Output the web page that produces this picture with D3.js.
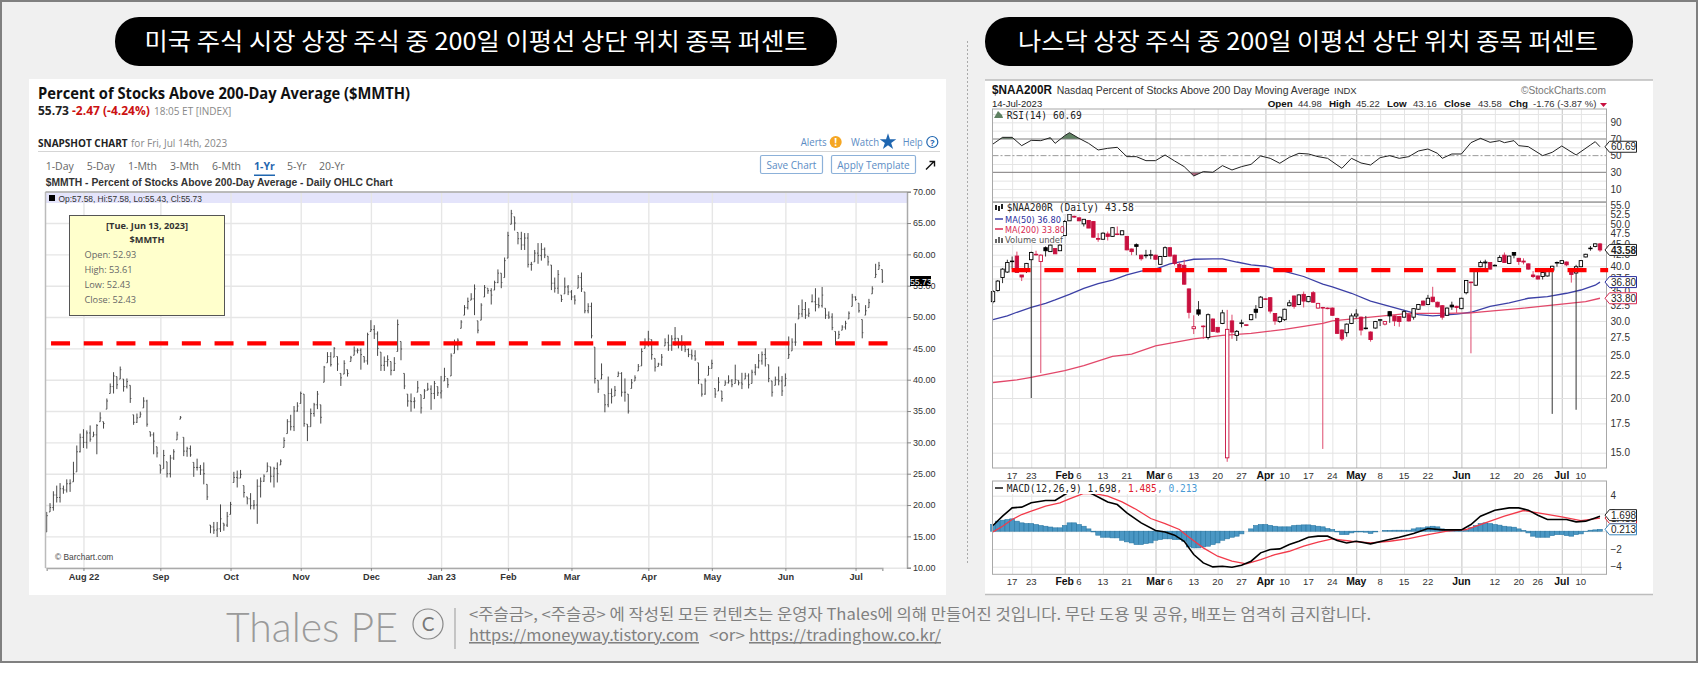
<!DOCTYPE html>
<html>
<head>
<meta charset="utf-8">
<script src="https://cdnjs.cloudflare.com/ajax/libs/d3/7.8.5/d3.min.js"></script>
<style>
  html, body { margin: 0; padding: 0; background: #fff; }
  svg { display: block; }
  .grid .domain { display: none; }
</style>
</head>
<body>
<div id="chart"></div>
<script>
// 1: DATA
// left chart: $MMTH daily bars, one value per trading day
const mmthHigh = [
  18.9,20.3,22.2,23.1,23.5,23.1,24.1,24.1,26.9,29.5,
  31.4,32.1,31.9,32.7,31.7,32.9,34.8,33.3,37.0,39.4,
  41.2,40.5,42.1,40.1,40.2,39.1,34.4,34.6,34.9,37.2,
  36.8,31.7,31.6,29.3,26.4,28.8,26.9,28.0,28.9,31.7,
  34.2,30.8,29.3,29.5,26.8,27.4,26.4,26.8,23.3,16.8,
  17.3,17.3,20.1,17.1,18.9,20.5,25.3,25.5,25.6,23.1,
  21.3,21.9,20.8,24.1,24.4,24.9,26.8,26.1,26.1,26.8,
  27.3,30.8,33.7,34.4,35.8,36.4,38.1,37.7,32.9,35.4,
  36.3,38.2,36.0,42.2,44.4,44.4,45.2,43.7,41.0,43.1,
  41.6,43.8,45.3,45.0,45.0,43.7,47.5,49.5,48.7,47.7,
  44.4,43.7,43.9,42.9,43.6,49.6,46.1,41.0,37.7,37.8,
  37.2,39.8,37.6,38.5,39.5,39.1,39.8,38.9,40.6,41.9,
  40.2,44.2,46.4,46.6,49.5,51.9,53.1,53.8,55.2,49.4,
  52.2,55.1,54.6,54.6,55.8,57.6,57.0,59.5,63.6,67.1,
  66.0,63.5,63.6,63.4,63.4,58.8,60.7,61.8,61.8,61.1,
  59.7,58.3,56.3,57.5,53.5,56.3,55.1,54.3,53.5,56.7,
  57.1,54.0,52.2,52.3,45.2,39.9,42.6,37.6,40.5,38.6,
  39.0,41.3,41.2,40.2,37.7,40.1,40.7,42.5,45.0,46.6,
  47.8,46.4,43.4,42.7,44.1,46.6,47.2,47.1,48.4,46.6,
  47.1,45.5,45.0,44.8,44.7,42.7,39.3,40.2,42.2,43.2,
  38.6,40.4,38.2,39.9,40.7,40.1,42.4,39.9,41.1,41.1,
  41.0,41.6,42.5,44.1,44.5,45.0,42.4,39.8,40.5,42.1,
  40.6,41.0,46.9,46.6,49.0,51.9,52.8,52.4,51.4,53.61,
  54.6,53.1,54.8,51.4,50.9,50.6,47.7,47.8,48.7,49.4,
  50.9,53.7,53.3,52.2,49.6,51.9,52.9,54.9,58.5,58.8,57.58
];
const mmthLow = [
  15.7,18.9,19.1,20.4,20.4,21.8,22.0,22.1,23.7,25.3,
  28.4,29.1,29.0,30.1,30.9,28.1,33.3,32.2,35.3,37.8,
  37.8,38.5,40.1,38.1,38.6,36.3,32.8,33.1,34.0,35.5,
  32.5,30.9,28.1,27.6,25.0,25.8,24.4,24.4,27.2,30.4,
  33.7,27.8,27.7,27.7,24.5,25.5,24.8,23.3,20.8,15.5,
  15.4,14.9,15.7,15.9,16.5,18.5,23.6,22.8,24.3,21.2,
  20.1,19.3,19.3,17.0,21.2,23.7,25.3,23.6,22.8,23.6,
  26.4,29.2,31.4,31.9,31.8,34.9,36.2,32.5,30.2,32.5,
  34.1,35.3,33.0,39.6,42.7,42.1,43.6,41.4,39.0,40.9,
  40.5,42.9,43.9,44.2,41.6,42.7,42.4,47.7,46.5,43.8,
  41.4,41.4,42.1,40.7,41.4,44.5,43.1,38.5,35.7,34.9,
  35.4,38.0,34.6,37.0,38.3,35.2,36.9,37.4,37.0,39.8,
  38.7,40.6,44.2,44.7,48.2,50.3,51.2,52.7,50.3,47.4,
  49.5,53.2,53.7,52.0,54.3,55.4,54.6,56.3,59.4,64.8,
  63.8,61.6,60.7,60.7,57.9,57.4,58.8,58.5,59.0,59.4,
  58.2,54.3,53.9,53.7,52.4,53.7,53.5,52.7,52.0,54.6,
  54.0,50.6,50.6,46.6,39.4,37.9,40.1,34.8,35.6,36.2,
  37.4,40.5,37.3,36.5,34.6,38.6,39.8,41.4,42.2,45.0,
  45.3,43.2,41.3,42.1,42.2,45.4,44.6,44.6,45.4,45.0,
  44.6,44.4,43.6,43.2,43.0,39.3,37.3,37.6,40.7,41.8,
  37.1,38.2,36.5,39.1,39.4,38.8,39.4,39.1,38.5,40.1,
  38.6,39.4,40.7,41.8,42.4,42.1,39.6,37.3,39.1,39.1,
  37.4,39.0,43.4,44.6,45.4,49.7,50.0,49.7,50.0,52.43,
  50.9,51.4,51.5,49.7,49.7,47.9,45.5,46.6,47.9,48.0,
  49.7,51.7,52.6,50.7,46.6,50.3,51.5,53.7,56.3,57.6,55.43
];
const mmthClose = [
  18.3,19.6,21.6,21.2,22.6,22.4,23.4,23.5,25.0,28.5,
  30.8,30.0,31.5,30.5,31.2,32.7,33.9,33.0,36.6,38.9,
  40.6,39.2,41.6,38.9,39.7,37.0,33.2,33.9,34.5,36.6,
  32.9,31.2,30.2,28.3,25.6,27.9,25.0,27.5,28.5,31.2,
  34.0,28.6,29.0,28.0,26.0,26.0,25.6,25.0,21.3,16.5,
  16.0,16.2,17.8,16.8,18.2,20.1,24.4,24.3,24.9,22.0,
  21.0,19.9,20.0,23.0,23.8,24.6,26.2,24.6,25.8,25.0,
  27.0,30.3,33.3,32.5,35.0,35.8,37.8,33.0,32.5,34.6,
  36.0,37.7,34.0,42.0,43.7,42.4,45.0,42.5,40.3,42.6,
  41.0,43.5,44.6,44.7,44.0,43.0,47.2,48.0,47.3,45.0,
  42.3,42.9,43.2,41.5,42.6,48.8,44.9,39.0,36.6,36.5,
  36.6,38.7,35.5,38.2,38.5,37.8,39.4,37.9,38.2,40.5,
  39.2,43.8,45.5,46.3,49.2,51.5,52.5,52.9,54.5,47.9,
  51.9,54.7,54.2,53.5,55.5,57.0,55.5,59.0,63.0,66.5,
  65.0,62.5,61.5,62.6,58.4,58.4,60.2,59.8,60.8,59.9,
  58.8,55.4,54.6,56.8,52.8,54.8,54.0,53.2,52.7,56.3,
  54.5,51.0,51.7,47.0,40.2,38.5,40.8,36.0,37.8,37.3,
  38.3,41.0,38.0,38.0,35.0,39.5,40.3,42.1,44.5,45.8,
  46.5,44.0,42.0,42.5,43.6,45.9,45.5,46.5,46.6,45.6,
  45.5,44.8,44.0,43.8,43.3,40.0,37.7,39.8,41.8,42.6,
  37.7,39.6,37.0,39.5,39.8,39.2,40.0,39.5,39.3,40.6,
  39.2,41.2,42.0,43.0,44.0,43.4,40.2,38.0,40.0,39.8,
  38.2,40.2,44.0,46.0,46.0,50.5,51.2,50.3,50.6,52.43,
  52.0,51.8,53.5,50.3,50.0,48.3,46.0,47.2,48.4,49.0,
  50.6,53.2,52.8,51.0,47.5,51.0,52.3,54.5,56.8,58.2,55.73
];
const mmthTicks = [10,15,20,25,30,35,40,45,50,55,60,65,70];
const mmthMonthIdx = [11,34,55,76,97,118,138,157,180,199,221,242];
const mmthMonthLabels = ["Aug 22","Sep","Oct","Nov","Dec","Jan 23","Feb","Mar","Apr","May","Jun","Jul"];
const mmthRedLine = 45.8;

// right chart: $NAA200R daily candles
const naaOpen = [
  33.2,35.2,37.7,38.8,41.0,42.2,38.2,39.2,41.4,42.6,
  41.0,44.1,43.2,43.9,43.4,47.0,50.8,52.0,51.6,50.0,
  50.9,50.6,46.3,46.1,47.4,46.8,47.4,47.2,46.8,43.8,
  44.8,42.4,42.3,42.4,42.4,40.4,42.1,44.1,42.4,40.4,
  40.2,35.5,28.8,31.8,29.2,27.5,30.3,29.0,29.6,14.6,
  30.0,27.8,29.6,29.4,30.2,31.9,32.2,33.7,33.9,31.2,
  29.9,30.2,32.5,34.2,32.7,34.5,33.2,34.8,32.1,32.2,
  32.1,32.1,30.4,28.6,28.2,29.6,30.8,30.6,28.8,28.3,
  28.9,30.1,29.5,31.5,30.8,30.7,30.6,31.0,30.6,31.9,
  33.3,32.7,34.0,33.1,32.5,30.9,32.6,32.4,32.0,34.8,
  36.8,36.2,39.9,40.7,40.8,40.1,41.0,42.4,40.6,43.0,
  41.7,41.1,40.5,38.2,38.0,37.9,38.0,39.2,40.7,40.6,
  40.9,39.2,38.6,39.9,42.0,43.9,44.4,44.98
];
const naaHigh = [
  35.3,37.2,39.6,41.4,42.1,43.2,38.2,40.7,43.2,43.4,
  42.6,44.4,44.8,44.0,44.9,51.0,53.4,52.2,51.7,51.3,
  51.0,50.7,47.6,47.8,48.0,49.1,49.3,48.3,46.9,43.9,
  45.1,42.5,43.6,43.6,42.5,42.2,44.4,44.2,42.5,40.8,
  41.4,35.6,30.9,33.3,29.3,31.2,30.4,29.0,31.8,31.8,
  31.0,28.6,30.2,29.4,31.1,32.6,34.2,33.8,34.0,31.2,
  30.7,32.0,33.5,34.3,34.5,35.0,34.2,35.1,33.0,32.3,
  32.2,32.2,30.5,28.7,29.6,31.2,31.9,30.7,30.8,28.4,
  30.0,30.3,30.0,31.6,30.9,30.8,31.8,31.1,32.1,32.8,
  33.4,34.4,35.9,33.2,32.6,32.2,33.2,32.5,33.9,37.2,
  36.9,39.5,41.2,41.4,40.9,40.4,42.4,43.0,42.3,43.1,
  41.8,41.7,40.6,39.0,38.1,38.8,39.3,40.1,41.0,41.3,
  41.0,39.3,40.3,41.3,42.7,44.5,45.1,45.22
];
const naaLow = [
  32.9,35.0,36.6,38.6,39.5,38.7,37.0,38.6,20.0,42.3,
  22.8,42.1,43.2,42.7,43.4,46.9,50.8,51.6,50.7,49.3,
  48.9,46.5,45.5,46.0,45.8,46.7,47.1,47.1,43.5,42.4,
  42.4,41.2,41.7,41.5,41.4,40.3,42.0,42.1,40.2,39.2,
  36.3,30.4,28.0,30.8,27.3,27.2,28.3,28.2,29.5,14.3,
  27.3,27.0,29.0,29.2,30.1,30.4,32.1,33.5,31.2,29.4,
  29.7,30.0,32.4,32.0,32.6,32.2,33.1,33.0,32.0,15.3,
  31.9,30.8,28.0,27.0,27.6,29.5,30.4,27.8,28.7,26.9,
  28.8,29.2,29.3,29.7,29.2,29.1,30.5,29.9,30.2,31.8,
  32.5,32.6,33.1,32.2,30.2,30.8,31.8,31.3,31.9,34.5,
  25.3,36.1,39.8,39.5,39.3,40.0,40.9,40.7,40.5,41.7,
  40.3,40.4,39.3,37.6,37.3,37.3,37.9,18.4,39.9,40.5,
  40.0,36.7,18.8,39.8,41.9,43.4,44.2,43.16
];
const naaClose = [
  35.0,37.0,39.4,40.8,41.1,38.7,37.8,40.6,43.0,42.5,
  42.4,43.4,44.7,42.7,44.7,50.6,52.6,51.8,50.8,51.2,
  48.9,46.6,46.1,47.6,46.8,49.0,47.3,48.2,43.6,43.2,
  44.4,41.6,42.4,42.5,41.5,42.1,44.1,42.2,40.6,39.7,
  36.4,31.4,29.1,31.1,29.1,31.0,28.4,28.3,31.3,28.7,
  28.3,28.4,29.7,29.3,31.0,31.4,34.0,33.6,31.6,30.0,
  30.6,31.9,33.0,32.4,34.4,33.3,34.1,33.1,32.9,32.1,
  32.0,30.9,28.1,27.3,29.5,30.8,31.1,28.6,28.9,27.2,
  29.9,30.2,29.9,30.8,30.0,29.9,31.5,30.0,32.0,32.7,
  32.6,33.8,33.2,32.3,30.6,32.1,32.3,32.2,33.8,37.1,
  36.7,38.9,40.8,40.9,39.4,40.2,41.9,40.8,42.2,42.4,
  41.0,40.9,39.4,37.9,37.4,38.7,39.2,40.0,40.8,41.2,
  40.3,38.3,39.9,41.2,42.6,44.0,45.0,43.58
];
const naaPriceTicks = [55,52.5,50,47.5,45,42.5,40,37.5,35,32.5,30,27.5,25,22.5,20,17.5,15];
const naaRedLine = 39.2;

const ma50Idx = [0,3,5,8,11,13,16,19,22,25,28,31,34,37,40,42,46,48,51,54,57,59,62,65,69,71,75,79,83,87,89,92,97,100,104,108,112,116,120,123,126,127];
const ma50Val = [30.2,30.8,31.4,32.2,32.9,33.5,34.5,35.6,36.5,37.2,38.2,39.0,39.4,40.5,41.1,41.5,41.6,41.6,40.9,40.3,40.0,39.5,38.7,37.9,36.4,35.9,34.7,33.3,32.4,31.5,31.0,30.8,31.1,31.4,32.4,33.0,33.8,34.1,34.7,35.3,36.2,36.8];
const ma200Idx = [0,5,8,15,19,25,29,34,42,48,54,61,69,71,79,87,94,100,104,110,117,124,127];
const ma200Val = [21.7,22.0,22.3,23.1,23.7,24.9,25.2,26.3,27.3,27.8,28.1,28.7,29.6,30.0,30.6,31.2,31.2,31.3,31.6,32.0,32.6,33.2,33.8];

// RSI(14)
const rsiIdx = [0,2,4,6,8,10,12,13,15,16,18,20,22,24,26,28,30,32,34,36,38,40,42,44,46,48,50,52,54,56,58,60,62,64,66,68,70,73,75,77,79,81,83,85,87,89,91,93,94,96,98,100,102,104,106,107,109,110,112,115,117,119,122,125,126,127];
const rsiVal = [64,72,72,62,68.4,68,71.6,64.8,74,77.6,70.8,64.8,56.8,58.8,60,48.8,48.8,44,44,50.8,43.6,36.8,25.6,30.8,30,38,32.8,36.8,39.6,49.6,46.8,40.8,48,52.8,52,48.8,46.8,34.8,46.8,41.2,38.8,47.6,50,46.8,48.8,55.6,58,52.8,46.8,52,52,65.6,70.8,66,68,65.6,68,62,60.8,50,54,61.6,50.8,62.8,66.8,60.69];
const rsiTicks = [90,70,50,30,10];
const rsiGridLines = [100,90,80,60,40,20,10,0];

// MACD(12,26,9)
const macdIdx = [0,2,4,6,8,11,13,15,17,19,21,24,26,28,31,34,36,38,40,42,44,46,48,50,52,54,56,58,60,62,64,66,68,70,72,74,76,79,82,85,88,91,94,98,100,102,105,108,110,112,114,116,118,120,122,124,126,127];
const macdVal = [0.64,1.69,2.63,2.71,3.2,3.46,3.46,4.14,4.7,4.6,4.14,3.3,3.0,2.07,0.94,0.08,-0.08,-0.45,-1.13,-2.63,-3.57,-4.02,-3.95,-4.06,-3.83,-3.38,-2.44,-2.07,-1.99,-1.5,-1.13,-0.68,-0.56,-0.56,-1.05,-1.32,-1.13,-1.43,-1.05,-0.68,-0.26,0.3,0.15,0.15,0.75,1.69,2.37,2.63,2.63,2.37,1.8,1.32,1.32,1.32,1.05,1.13,1.5,1.698];
const signalIdx = [0,2,4,6,8,11,14,16,19,21,24,27,30,33,36,39,41,44,47,50,53,56,59,62,65,68,71,75,79,83,87,91,95,99,103,107,111,115,119,123,127];
const signalVal = [-0.08,0.56,1.32,1.88,2.26,2.82,3.2,3.65,4.25,4.25,3.95,3.3,2.44,1.43,0.86,0.19,-0.68,-1.88,-2.82,-3.38,-3.68,-3.2,-2.63,-2.26,-1.69,-1.24,-0.86,-1.13,-1.32,-1.13,-0.83,-0.38,0,0.19,0.94,1.69,2.33,1.99,1.62,1.2,1.485];
const macdHist = [
  0.75,1.13,1.24,1.32,1.39,1.13,0.94,0.86,0.86,0.75,0.64,0.56,0.47,
  0.38,0.38,0.64,0.94,0.94,0.75,0.56,0.26,-0.08,-0.45,-0.68,-0.68,-0.75,-0.75,-1.02,-1.2,-1.32,-1.5,-1.5,-1.39,
  -1.32,-1.02,-0.94,-0.86,-0.86,-0.94,-0.94,-1.13,-1.77,-1.88,-1.88,-1.77,-1.69,-1.5,-1.32,-1.02,-0.86,-0.68,-0.56,-0.3,0,0.26,0.64,0.75,0.75,0.66,0.56,
  0.49,0.49,0.49,0.64,0.68,0.71,0.71,0.64,0.56,0.49,
  0.3,0.19,-0.08,-0.38,-0.38,-0.19,-0.08,-0.08,-0.11,-0.26,-0.08,0,0.08,0.08,0.11,0.11,0.11,0.11,0.26,0.38,0.38,0.49,0.56,0.49,0.26,0.11,0.08,0.11,0.04,0.08,
  0.38,0.64,0.86,0.94,0.86,0.75,0.68,0.56,0.49,0.45,0.26,0.08,-0.19,-0.56,-0.68,-0.68,-0.68,-0.49,-0.38,-0.38,-0.49,-0.56,-0.38,-0.3,-0.05,0.11,0.15,0.213
];
const macdTicks = [4,2,-2,-4];

// x axis of the right chart
const naaDayIdx = [4,8,18,23,28,37,42,47,52,61,66,71,81,86,91,105,110,114,123];
const naaDayLabels = ["17","23","6","13","21","6","13","20","27","10","17","24","8","15","22","12","20","26","10"];
const naaMonthIdx = [15,34,57,76,98,119];
const naaMonthLabels = ["Feb","Mar","Apr","May","Jun","Jul"];

// 2: GLOBALS
const width = 1698, height = 673;
const krFont = "'Noto Sans CJK KR', 'Noto Sans', sans-serif";
const webFont = "'Open Sans', sans-serif";
const arial = "'Liberation Sans', Arial, sans-serif";
const mono = "'DejaVu Sans Mono', monospace";
const sans = "'DejaVu Sans', sans-serif";

const svg = d3.select("#chart").append("svg")
    .attr("width", width)
    .attr("height", height);

function addText(g, x, y, str, font, size, color, extra) {
    const t = g.append("text")
        .attr("x", x).attr("y", y)
        .attr("font-family", font)
        .attr("font-size", size)
        .attr("fill", color)
        .text(str);
    if (extra) Object.entries(extra).forEach(([k, v]) => t.attr(k, v));
    return t;
}

// grid lines are axes without labels
function styleGrid(g, color, w) {
    g.selectAll("text").remove();
    g.selectAll("line").attr("stroke", color).attr("stroke-width", w);
}

// 3: PAGE BACKGROUND, HEADERS, FOOTER
svg.append("rect").attr("x", 1).attr("y", 1).attr("width", width - 2).attr("height", 661)
    .attr("fill", "#f0f0f0").attr("stroke", "#808080").attr("stroke-width", 2);

svg.append("rect").attr("x", 29).attr("y", 79).attr("width", 917).attr("height", 516).attr("fill", "#fff");
svg.append("rect").attr("x", 985).attr("y", 80).attr("width", 668).attr("height", 514)
    .attr("fill", "#fff");
svg.append("line").attr("x1", 985).attr("x2", 1653).attr("y1", 80).attr("y2", 80).attr("stroke", "#bdbdbd").attr("stroke-width", 1.5);
svg.append("line").attr("x1", 985).attr("x2", 1653).attr("y1", 594.5).attr("y2", 594.5).attr("stroke", "#bdbdbd").attr("stroke-width", 1.5);
svg.append("line").attr("x1", 967.5).attr("x2", 967.5).attr("y1", 41).attr("y2", 563)
    .attr("stroke", "#aaa").attr("stroke-dasharray", "2,2");

[
    { x: 115, w: 722, tx: 476, len: 663, s: "미국 주식 시장 상장 주식 중 200일 이평선 상단 위치 종목 퍼센트" },
    { x: 985, w: 648, tx: 1308, len: 580, s: "나스닥 상장 주식 중 200일 이평선 상단 위치 종목 퍼센트" }
].forEach(p => {
    svg.append("rect").attr("x", p.x).attr("y", 17).attr("width", p.w).attr("height", 49)
        .attr("rx", 24).attr("ry", 24).attr("fill", "#000");
    addText(svg, p.tx, 50, p.s, krFont, 24, "#fff", { "text-anchor": "middle", textLength: p.len, lengthAdjust: "spacingAndGlyphs" });
});

addText(svg, 226, 642, "Thales PE", "Lato, 'Open Sans', sans-serif", 42, "#9a9a9a",
    { "font-weight": 300, textLength: 172, lengthAdjust: "spacingAndGlyphs" });
svg.append("circle").attr("cx", 428).attr("cy", 624).attr("r", 15).attr("fill", "none").attr("stroke", "#888").attr("stroke-width", 1.2);
addText(svg, 428, 631, "C", "Lato, sans-serif", 19, "#777", { "text-anchor": "middle", "font-weight": 400 });
svg.append("line").attr("x1", 455).attr("x2", 455).attr("y1", 608).attr("y2", 649).attr("stroke", "#999");
addText(svg, 469, 620, "<주슬금>, <주슬공> 에 작성된 모든 컨텐츠는 운영자 Thales에 의해 만들어진 것입니다. 무단 도용 및 공유, 배포는 엄격히 금지합니다.",
    krFont, 15.5, "#808080", { textLength: 902, lengthAdjust: "spacingAndGlyphs" });
addText(svg, 469, 641, "https://moneyway.tistory.com", krFont, 15.5, "#808080", { "text-decoration": "underline", textLength: 230, lengthAdjust: "spacingAndGlyphs" });
addText(svg, 709, 641, "<or>", krFont, 15.5, "#808080", { textLength: 36, lengthAdjust: "spacingAndGlyphs" });
addText(svg, 749, 641, "https://tradinghow.co.kr/", krFont, 15.5, "#808080", { "text-decoration": "underline", textLength: 192, lengthAdjust: "spacingAndGlyphs" });

// ==========================================
//         LEFT CHART ($MMTH)
// ==========================================
const left = svg.append("g");

addText(left, 38, 99, "Percent of Stocks Above 200-Day Average ($MMTH)", webFont, 15.3, "#111", { "font-weight": 700, textLength: 372, lengthAdjust: "spacingAndGlyphs" });
addText(left, 38, 115, "55.73", webFont, 12, "#222", { "font-weight": 700 });
addText(left, 72, 115, "-2.47 (-4.24%)", webFont, 12, "#cc1111", { "font-weight": 700 });
addText(left, 154, 115, "18:05 ET [INDEX]", webFont, 10, "#888");
addText(left, 38, 147, "SNAPSHOT CHART", webFont, 10, "#222", { "font-weight": 700 });
addText(left, 131, 147, "for Fri, Jul 14th, 2023", webFont, 10, "#888");
left.append("line").attr("x1", 38).attr("x2", 940).attr("y1", 151.5).attr("y2", 151.5).attr("stroke", "#d5d5d5");

const tabLabels = ["1-Day","5-Day","1-Mth","3-Mth","6-Mth","1-Yr","5-Yr","20-Yr"];
const tabX = [45.7,86.7,128,170,212,254,287,319];
tabLabels.forEach((s, i) => addText(left, tabX[i], 170, s, webFont, 10.5, i === 5 ? "#1f66b0" : "#666", { "font-weight": i === 5 ? 700 : 400 }));
left.append("rect").attr("x", 254).attr("y", 174.5).attr("width", 21).attr("height", 1.5).attr("fill", "#1f66b0");
addText(left, 45.7, 186, "$MMTH - Percent of Stocks Above 200-Day Average - Daily OHLC Chart", arial, 10.5, "#333", { "font-weight": 700, textLength: 347, lengthAdjust: "spacingAndGlyphs" });

// top right links and buttons
addText(left, 800.7, 146, "Alerts", webFont, 10.5, "#5b8cc4", { textLength: 26, lengthAdjust: "spacingAndGlyphs" });
left.append("circle").attr("cx", 835.7).attr("cy", 142).attr("r", 6).attr("fill", "#f5a623");
addText(left, 835.7, 146, "!", webFont, 10, "#fff", { "text-anchor": "middle", "font-weight": 700 });
addText(left, 851, 146, "Watch", webFont, 10.5, "#5b8cc4", { textLength: 28, lengthAdjust: "spacingAndGlyphs" });
left.append("path").attr("d", d3.symbol(d3.symbolStar, 85)()).attr("transform", "translate(888,142)").attr("fill", "#1f66b0");
addText(left, 902.7, 146, "Help", webFont, 10.5, "#5b8cc4", { textLength: 20, lengthAdjust: "spacingAndGlyphs" });
left.append("circle").attr("cx", 932.3).attr("cy", 142).attr("r", 5.5).attr("fill", "#fff").attr("stroke", "#1f66b0").attr("stroke-width", 1.2);
addText(left, 932.3, 145.5, "?", webFont, 9, "#1f66b0", { "text-anchor": "middle", "font-weight": 700 });
[{ x: 760.5, w: 62, s: "Save Chart" }, { x: 831.5, w: 84, s: "Apply Template" }].forEach(b => {
    left.append("rect").attr("x", b.x).attr("y", 155.5).attr("width", b.w).attr("height", 18).attr("rx", 1.5)
        .attr("fill", "#fff").attr("stroke", "#8cb1d9").attr("stroke-width", 1.2);
    addText(left, b.x + b.w / 2, 169, b.s, webFont, 10, "#5b8cc4", { "text-anchor": "middle" });
});
left.append("path").attr("d", "M926,169.5L934,161.5M929.5,161.5H934.5V166.5").attr("fill", "none").attr("stroke", "#111").attr("stroke-width", 1.4);

// scales for the plot
const xL = d3.scaleLinear().domain([0, 250]).range([46.7, 882.3]);
const yL = d3.scaleLinear().domain([10, 70]).range([567.7, 191.7]);

// lavender strip sits under the grid
left.append("rect").attr("x", 45.5).attr("y", 192).attr("width", 861.5).attr("height", 11).attr("fill", "#e4e4fb");

styleGrid(left.append("g").attr("class", "grid").attr("transform", "translate(45.5,0)")
    .call(d3.axisLeft(yL).tickValues(mmthTicks).tickSize(-861.5)), "#e6e6e6", 1.4);
styleGrid(left.append("g").attr("class", "grid").attr("transform", "translate(0,567.7)")
    .call(d3.axisBottom(xL).tickValues(mmthMonthIdx).tickSize(-376)), "#e6e6e6", 1.4);

// OHLC bars (left tick sits on the prior close, the index opens there)
const mmthBars = mmthHigh.map((h, i) => ({ i, high: h, low: mmthLow[i], close: mmthClose[i], prev: i ? mmthClose[i - 1] : mmthLow[0] }));
const barG = left.append("g").attr("stroke", "#484848");
barG.selectAll(".hl").data(mmthBars).enter().append("line")
    .attr("x1", d => xL(d.i)).attr("x2", d => xL(d.i))
    .attr("y1", d => yL(d.high)).attr("y2", d => yL(d.low))
    .attr("stroke-width", 1);
barG.selectAll(".cl").data(mmthBars).enter().append("line")
    .attr("x1", d => xL(d.i)).attr("x2", d => xL(d.i) + 1.1)
    .attr("y1", d => yL(d.close)).attr("y2", d => yL(d.close))
    .attr("stroke-width", 0.9);
barG.selectAll(".op").data(mmthBars).enter().append("line")
    .attr("x1", d => xL(d.i) - 1.1).attr("x2", d => xL(d.i))
    .attr("y1", d => yL(Math.min(d.high, Math.max(d.low, d.prev))))
    .attr("y2", d => yL(Math.min(d.high, Math.max(d.low, d.prev))))
    .attr("stroke-width", 0.9);

// frame and axes
const leftAxisY = left.append("g").attr("transform", "translate(907,0)")
    .call(d3.axisRight(yL).tickValues(mmthTicks).tickSize(4).tickPadding(2).tickFormat(d3.format(".2f")));
const leftAxisX = left.append("g").attr("transform", "translate(0,568)")
    .call(d3.axisBottom(xL).tickValues(mmthMonthIdx).tickSize(3).tickPadding(2).tickFormat((d, i) => mmthMonthLabels[i]));
leftAxisY.selectAll("text").attr("font-family", arial).attr("font-size", 9).attr("fill", "#333");
leftAxisX.selectAll("text").attr("font-family", arial).attr("font-size", 9.2).attr("font-weight", 700).attr("fill", "#333");
[leftAxisY, leftAxisX].forEach(a => {
    a.selectAll("line").attr("stroke", "#888");
    a.select(".domain").attr("stroke", "#aaa").attr("stroke-width", 1.5);
});
left.append("line").attr("x1", 45.5).attr("x2", 45.5).attr("y1", 192).attr("y2", 568).attr("stroke", "#bbb").attr("stroke-width", 1.5);
left.append("line").attr("x1", 45.5).attr("x2", 907).attr("y1", 192).attr("y2", 192).attr("stroke", "#aaa").attr("stroke-width", 1.5);

left.append("rect").attr("x", 49).attr("y", 195).attr("width", 6).attr("height", 6).attr("fill", "#000");
addText(left, 58.5, 201.5, "Op:57.58, Hi:57.58, Lo:55.43, Cl:55.73", arial, 8.4, "#333");
addText(left, 55, 560, "© Barchart.com", arial, 8.4, "#444");

// last price flag
left.append("rect").attr("x", 910).attr("y", 276).attr("width", 21).attr("height", 10).attr("fill", "#000");
addText(left, 910, 284.5, "55.73", arial, 8.7, "#fff");

// tooltip box
left.append("rect").attr("x", 69.5).attr("y", 215.5).attr("width", 155).attr("height", 100)
    .attr("fill", "#ffffcc").attr("stroke", "#555");
addText(left, 147, 229, "[Tue. Jun 13, 2023]", webFont, 9.2, "#333", { "text-anchor": "middle", "font-weight": 700 });
addText(left, 147, 243, "$MMTH", webFont, 9.2, "#333", { "text-anchor": "middle", "font-weight": 700 });
["Open: 52.93","High: 53.61","Low: 52.43","Close: 52.43"].forEach((s, i) =>
    addText(left, 84.5, 258 + i * 15, s, webFont, 9.2, "#666"));

// red dashed marker
const dashLine = d3.line().x(d => d[0]).y(d => d[1]);
left.append("path")
    .attr("d", dashLine([[xL(1.3), yL(mmthRedLine)], [xL(252.5), yL(mmthRedLine)]]))
    .attr("stroke", "#ff0000").attr("stroke-width", 4.4).attr("stroke-dasharray", "19,13.7").attr("fill", "none");

// ==========================================
//         RIGHT CHART ($NAA200R)
// ==========================================
const right = svg.append("g");
const xN = d3.scaleLinear().domain([0, 127]).range([993, 1600]);
const panelL = 992.5, panelR = 1606.5;
const yRsi = d3.scaleLinear().domain([30, 70]).range([172.3, 139]);
const yPrice = d3.scaleLog().domain([15, 55]).range([452.7, 205.7]);
const yMacd = d3.scaleLinear().domain([-4, 4]).range([566.7, 495.7]);

addText(right, 992, 94, "$NAA200R", arial, 12.5, "#111", { "font-weight": 700, textLength: 60, lengthAdjust: "spacingAndGlyphs" });
addText(right, 1056.7, 94, "Nasdaq Percent of Stocks Above 200 Day Moving Average", arial, 10.5, "#333", { textLength: 273, lengthAdjust: "spacingAndGlyphs" });
addText(right, 1334, 94, "INDX", arial, 9.5, "#333");
addText(right, 1521, 94, "©StockCharts.com", arial, 10.2, "#777", { textLength: 85, lengthAdjust: "spacingAndGlyphs" });
addText(right, 992, 106.7, "14-Jul-2023", arial, 9.5, "#222");

const quoteKeys = [["Open",1267.7],["High",1329],["Low",1387],["Close",1444],["Chg",1509]];
const quoteVals = [["44.98",1298],["45.22",1356],["43.16",1413],["43.58",1478],["-1.76 (-3.87 %)",1533]];
quoteKeys.forEach(k => addText(right, k[1], 106.7, k[0], arial, 9.8, "#111", { "font-weight": 700 }));
quoteVals.forEach(k => addText(right, k[1], 106.7, k[0], arial, 9.5, "#333"));
right.append("path").attr("d", "M1600,103H1607L1603.5,107Z").attr("fill", "#c8103f");

// panel frames and grids
const panels = [
    { top: 109, bottom: 201.7 },
    { top: 202.5, bottom: 468 },
    { top: 481, bottom: 574.3 }
];
panels.forEach(p => {
    styleGrid(right.append("g").attr("class", "grid").attr("transform", `translate(0,${p.bottom})`)
        .call(d3.axisBottom(xN).tickValues(naaDayIdx).tickSize(-(p.bottom - p.top))), "#e4e4e4", 1);
    styleGrid(right.append("g").attr("class", "grid").attr("transform", `translate(0,${p.bottom})`)
        .call(d3.axisBottom(xN).tickValues(naaMonthIdx).tickSize(-(p.bottom - p.top))), "#c2c2c2", 1);
});

function horizontalGrid(scale, values, color) {
    styleGrid(right.append("g").attr("class", "grid").attr("transform", `translate(${panelL},0)`)
        .call(d3.axisLeft(scale).tickValues(values).tickSize(-(panelR - panelL))), color, 1);
}
horizontalGrid(yRsi, rsiGridLines, "#e4e4e4");
horizontalGrid(yPrice, naaPriceTicks, "#e2e2e2");
horizontalGrid(yMacd, [4, 2, 0, -2, -4], "#e2e2e2");

// RSI panel
const rsiPts = rsiIdx.map((d, i) => ({ i: d, v: rsiVal[i] }));
const rsiLine = d3.line().x(d => xN(d.i)).y(d => yRsi(d.v));
const clipHi = svg.append("clipPath").attr("id", "rsiHi").append("rect").attr("x", panelL).attr("y", 109).attr("width", panelR - panelL).attr("height", yRsi(70) - 109);
const clipLo = svg.append("clipPath").attr("id", "rsiLo").append("rect").attr("x", panelL).attr("y", yRsi(30)).attr("width", panelR - panelL).attr("height", 201 - yRsi(30));
right.append("path").datum(rsiPts)
    .attr("d", d3.area().x(d => xN(d.i)).y0(yRsi(70)).y1(d => yRsi(d.v)))
    .attr("clip-path", "url(#rsiHi)").attr("fill", "#5f8162");
right.append("path").datum(rsiPts)
    .attr("d", d3.area().x(d => xN(d.i)).y0(yRsi(30)).y1(d => yRsi(d.v)))
    .attr("clip-path", "url(#rsiLo)").attr("fill", "#a8647a");
[70, 30].forEach(v => right.append("line").attr("x1", panelL).attr("x2", panelR).attr("y1", yRsi(v)).attr("y2", yRsi(v)).attr("stroke", "#7f7f7f"));
right.append("line").attr("x1", panelL).attr("x2", panelR).attr("y1", yRsi(50)).attr("y2", yRsi(50))
    .attr("stroke", "#999").attr("stroke-dasharray", "6,2,2,2");
right.append("path").datum(rsiPts).attr("d", rsiLine).attr("fill", "none").attr("stroke", "#222").attr("stroke-width", 1);

// price panel: averages under the candles
const maLine = d3.line().x(d => xN(d.i)).y(d => yPrice(d.v));
right.append("path").datum(ma50Idx.map((d, i) => ({ i: d, v: ma50Val[i] })))
    .attr("d", maLine).attr("fill", "none").attr("stroke", "#3c40a6").attr("stroke-width", 1.3);
right.append("path").datum(ma200Idx.map((d, i) => ({ i: d, v: ma200Val[i] })))
    .attr("d", maLine).attr("fill", "none").attr("stroke", "#e2486a").attr("stroke-width", 1.3);

// candles: hollow when close > open, red when close < prior close
const candles = naaOpen.map((o, i) => ({
    i, open: o, high: naaHigh[i], low: naaLow[i], close: naaClose[i],
    color: i > 0 && naaClose[i] < naaClose[i - 1] ? "#c8103f" : "#000",
    hollow: naaClose[i] >= o
}));
const candleW = 3.4;
const candleG = right.append("g");
candleG.selectAll(".wick").data(candles).enter().append("line")
    .attr("x1", d => xN(d.i)).attr("x2", d => xN(d.i))
    .attr("y1", d => yPrice(d.high)).attr("y2", d => yPrice(d.low))
    .attr("stroke", d => d.color === "#000" ? "#333" : "#de4a6d").attr("stroke-width", 1);
candleG.selectAll(".body").data(candles).enter().append("rect")
    .attr("x", d => xN(d.i) - candleW / 2)
    .attr("width", candleW)
    .attr("y", d => yPrice(Math.max(d.open, d.close)))
    .attr("height", d => Math.max(0.6, Math.abs(yPrice(d.open) - yPrice(d.close))))
    .attr("fill", d => d.hollow ? "#fff" : d.color)
    .attr("stroke", d => d.color)
    .attr("stroke-width", 0.9);

// price legend sits on a white patch
right.append("rect").attr("x", 993).attr("y", 203).attr("width", 70).attr("height", 40).attr("fill", "#fff");
right.append("rect").attr("x", 993).attr("y", 203).attr("width", 142).attr("height", 11).attr("fill", "#fff");
addText(right, 1006.7, 211, "$NAA200R (Daily) 43.58", mono, 9.6, "#222");
right.append("line").attr("x1", 995).attr("x2", 1003).attr("y1", 219).attr("y2", 219).attr("stroke", "#3c40a6").attr("stroke-width", 1.5);
addText(right, 1005, 222.7, "MA(50) 36.80", sans, 9, "#2a2e9e", { textLength: 56, lengthAdjust: "spacingAndGlyphs" });
right.append("line").attr("x1", 995).attr("x2", 1003).attr("y1", 229).attr("y2", 229).attr("stroke", "#d82a52").attr("stroke-width", 1.5);
addText(right, 1005, 232.7, "MA(200) 33.80", sans, 9, "#d82a52", { textLength: 60, lengthAdjust: "spacingAndGlyphs" });
addText(right, 1005, 242.7, "Volume undef", sans, 9, "#555", { textLength: 58, lengthAdjust: "spacingAndGlyphs" });
right.append("path").attr("d", "M995,243V239H997V243ZM998,243V237H1000V243ZM1001,243V238H1003V243Z").attr("fill", "#666");
right.append("path").attr("d", "M995,210V205H997V210ZM998,211V206H1000V211ZM1001,209V204H1003V209Z").attr("fill", "#222");
right.append("path").attr("d", "M994,118L998,111L1002,115L1003,118Z").attr("fill", "#5f8162");
addText(right, 1006.7, 119, "RSI(14) 60.69", mono, 9.6, "#222");

// MACD panel
const macdG = right.append("g");
macdG.selectAll("rect").data(macdHist).enter().append("rect")
    .attr("x", (d, i) => xN(i) - 2.4)
    .attr("width", 4.78)
    .attr("y", d => Math.min(yMacd(d), yMacd(0)))
    .attr("height", d => Math.abs(yMacd(d) - yMacd(0)))
    .attr("fill", "#4a97c4")
    .attr("stroke", "#2a78a4")
    .attr("stroke-width", 0.6);
right.append("path").datum(signalIdx.map((d, i) => ({ i: d, v: signalVal[i] })))
    .attr("d", d3.line().x(d => xN(d.i)).y(d => yMacd(d.v)))
    .attr("fill", "none").attr("stroke", "#f23a4a").attr("stroke-width", 1.3);
right.append("path").datum(macdIdx.map((d, i) => ({ i: d, v: macdVal[i] })))
    .attr("d", d3.line().x(d => xN(d.i)).y(d => yMacd(d.v)))
    .attr("fill", "none").attr("stroke", "#000").attr("stroke-width", 1.6);
right.append("rect").attr("x", 993).attr("y", 482).attr("width", 205).attr("height", 12).attr("fill", "#fff");
right.append("line").attr("x1", 995).attr("x2", 1003).attr("y1", 488).attr("y2", 488).attr("stroke", "#111").attr("stroke-width", 1.5);
const macdLegend = addText(right, 1006.7, 491.7, "", mono, 9.6, "#222");
macdLegend.append("tspan").attr("fill", "#222").text("MACD(12,26,9) 1.698");
macdLegend.append("tspan").attr("fill", "#e0202f").text(", 1.485");
macdLegend.append("tspan").attr("fill", "#4a9ad4").text(", 0.213");

// frames
panels.forEach(p => {
    right.append("rect").attr("x", panelL).attr("y", p.top).attr("width", panelR - panelL).attr("height", p.bottom - p.top)
        .attr("fill", "none").attr("stroke", "#a8a8a8");
});

// right hand tick labels
function rightAxis(scale, values, fmt) {
    const a = right.append("g").attr("transform", `translate(${panelR},0)`)
        .call(d3.axisRight(scale).tickValues(values).tickSize(0).tickPadding(4).tickFormat(fmt));
    a.select(".domain").remove();
    a.selectAll("text").attr("font-family", arial).attr("font-size", 10).attr("fill", "#333");
}
rightAxis(yRsi, rsiTicks, d3.format("d"));
rightAxis(yPrice, naaPriceTicks, d3.format(".1f"));
rightAxis(yMacd, macdTicks, d3.format("d"));

// date labels under the price and MACD panels
[478.5, 585].forEach(y => {
    const g = right.append("g").attr("transform", `translate(0,${y})`);
    naaDayIdx.forEach((d, i) => addText(g, xN(d), 0, naaDayLabels[i], arial, 9.6, "#333", { "text-anchor": "middle" }));
    naaMonthIdx.forEach((d, i) => addText(g, xN(d), 0, naaMonthLabels[i], arial, 10.4, "#111", { "text-anchor": "middle", "font-weight": 700 }));
});

// value tags on the right edge
function valueTag(y, str, color, bold) {
    right.append("path")
        .attr("d", `M1605,${y}L1609.5,${y - 5.5}H1636.5V${y + 5.5}H1609.5Z`)
        .attr("fill", "#fff").attr("stroke", color);
    addText(right, 1611, y + 3.6, str, arial, 10, "#222", { "font-weight": bold ? 700 : 400 });
}
valueTag(yRsi(60.69), "60.69", "#222", false);
valueTag(yPrice(43.58), "43.58", "#222", true);
valueTag(yPrice(36.8), "36.80", "#2a2e9e", false);
valueTag(yPrice(33.8), "33.80", "#d82a52", false);
valueTag(yMacd(1.485), "1.485", "#e0202f", false);
valueTag(yMacd(1.698) - 1, "1.698", "#222", false);
valueTag(yMacd(0.213), "0.213", "#3a86bd", false);

// red dashed marker
right.append("path")
    .attr("d", dashLine([[xN(3.9), yPrice(naaRedLine)], [xN(128.7), yPrice(naaRedLine)]]))
    .attr("stroke", "#ff0000").attr("stroke-width", 4.4).attr("stroke-dasharray", "19,13.7").attr("fill", "none");
</script>
</body>
</html>
